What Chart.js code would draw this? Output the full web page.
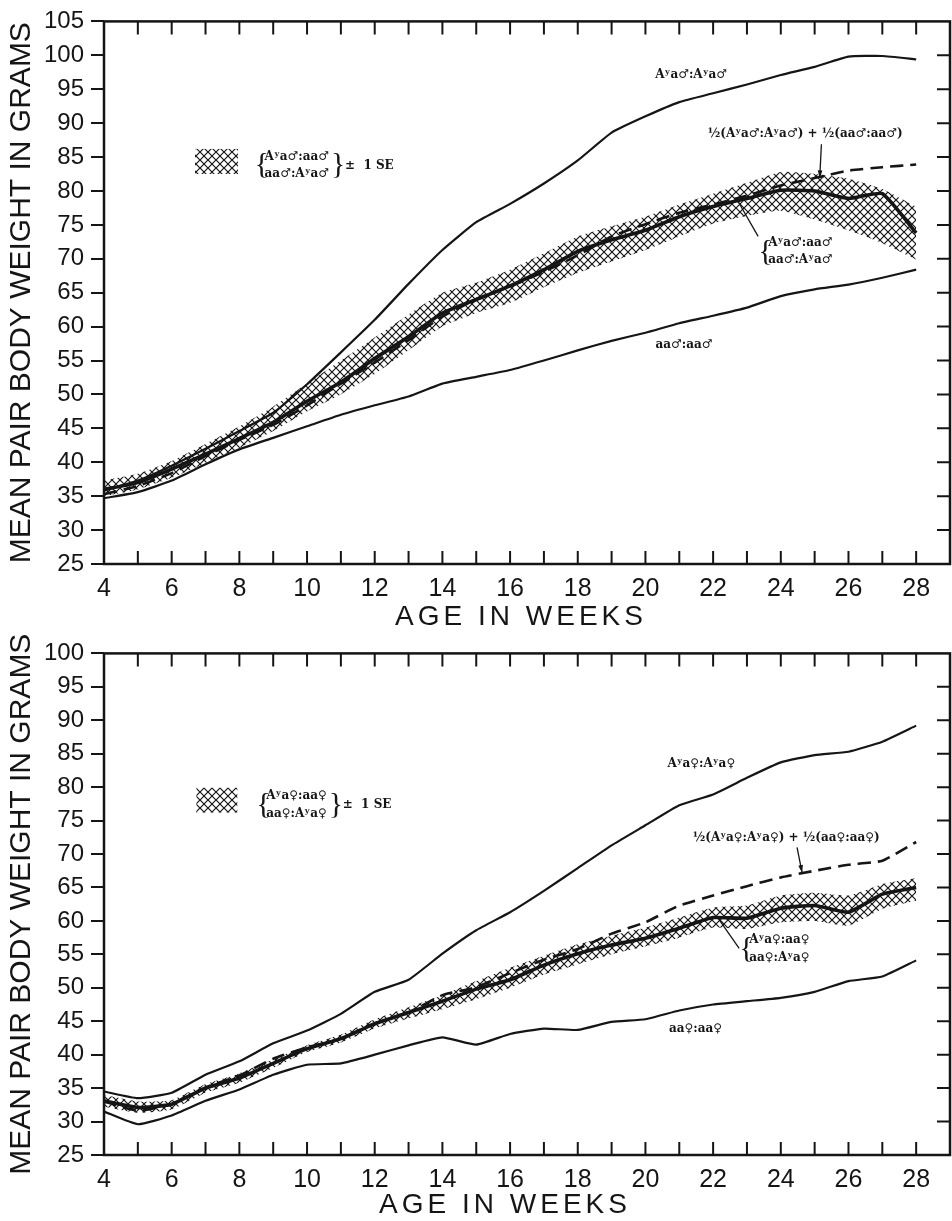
<!DOCTYPE html>
<html>
<head>
<meta charset="utf-8">
<script src="https://cdn.jsdelivr.net/npm/chart.js@4.4.0/dist/chart.umd.min.js"></script>
<style>
  html, body { margin: 0; padding: 0; background: #fff; }
  #wrap { position: relative; width: 952px; height: 1221px; }
  canvas { position: absolute; left: 0; }
  #males { top: 0; }
  #females { top: 632px; }
</style>
</head>
<body>
<div id="wrap">
  <canvas id="males" width="952" height="632"></canvas>
  <canvas id="females" width="952" height="589"></canvas>
</div>
<script>
const weeks = [4, 5, 6, 7, 8, 9, 10, 11, 12, 13, 14, 15, 16, 17, 18, 19, 20, 21, 22, 23, 24, 25, 26, 27, 28];

// males
const maleAyAy = [35.8, 37.3, 39.5, 42.0, 44.6, 47.3, 51.5, 56.2, 61.0, 66.3, 71.3, 75.4, 78.1, 81.1, 84.5, 88.6, 91.0, 93.1, 94.4, 95.7, 97.1, 98.3, 99.8, 99.9, 99.4];
const maleAaAa = [34.7, 35.6, 37.3, 39.7, 41.9, 43.6, 45.3, 47.0, 48.4, 49.7, 51.6, 52.6, 53.6, 55.0, 56.5, 57.9, 59.1, 60.5, 61.6, 62.8, 64.5, 65.5, 66.2, 67.2, 68.4];
const maleMidParent = [35.3, 36.5, 38.4, 40.9, 43.3, 45.5, 48.4, 51.6, 54.7, 58.0, 61.5, 64.0, 65.9, 68.1, 70.5, 73.3, 75.1, 76.8, 78.0, 79.3, 80.8, 81.9, 83.0, 83.5, 83.9];
const maleReciprocal = [36.0, 37.0, 39.0, 41.2, 43.5, 45.9, 49.0, 51.8, 55.3, 58.5, 62.0, 64.0, 66.0, 68.4, 71.1, 72.8, 74.2, 76.2, 77.7, 78.9, 80.1, 80.0, 78.9, 79.6, 73.8];
const maleSeUpper = [37.3, 38.3, 40.2, 42.7, 45.3, 48.2, 51.6, 55.0, 58.4, 61.8, 65.0, 66.5, 68.4, 70.8, 73.3, 74.8, 76.2, 78.0, 79.6, 81.2, 82.8, 82.5, 81.8, 80.3, 77.7];
const maleSeLower = [35.0, 36.0, 37.7, 39.9, 42.1, 44.6, 47.5, 50.0, 53.0, 56.5, 60.0, 62.0, 63.5, 65.8, 67.9, 69.6, 71.3, 73.3, 75.2, 76.3, 77.1, 75.8, 74.2, 72.3, 69.9];

// females
const femaleAyAy = [34.5, 33.5, 34.3, 37.0, 39.0, 41.7, 43.6, 46.1, 49.4, 51.2, 55.1, 58.6, 61.3, 64.5, 67.9, 71.3, 74.3, 77.3, 78.9, 81.4, 83.7, 84.8, 85.3, 86.8, 89.2];
const femaleAaAa = [31.5, 29.6, 30.9, 33.1, 34.8, 37.0, 38.5, 38.7, 40.0, 41.4, 42.6, 41.5, 43.1, 43.9, 43.7, 44.9, 45.3, 46.6, 47.5, 48.0, 48.5, 49.4, 51.0, 51.7, 54.1];
const femaleMidParent = [33.0, 31.6, 32.6, 35.1, 36.9, 39.4, 41.1, 42.4, 44.7, 46.3, 48.9, 50.1, 52.2, 54.2, 55.8, 58.1, 59.8, 62.3, 63.8, 65.2, 66.5, 67.5, 68.4, 69.0, 71.8];
const femaleReciprocal = [33.1, 32.1, 32.6, 35.0, 36.5, 38.7, 40.9, 42.4, 44.6, 46.3, 48.0, 49.8, 51.2, 53.4, 55.1, 56.4, 57.4, 58.9, 60.5, 60.4, 61.9, 62.3, 61.3, 64.0, 65.0];
const femaleSeUpper = [34.0, 33.0, 33.2, 35.6, 37.2, 39.3, 41.4, 43.0, 45.3, 47.1, 48.9, 51.0, 53.0, 54.8, 56.5, 57.8, 59.0, 60.5, 62.0, 62.3, 63.8, 64.2, 63.8, 65.5, 66.4];
const femaleSeLower = [32.2, 31.3, 31.8, 34.3, 35.8, 38.0, 40.4, 41.8, 43.9, 45.4, 46.8, 48.3, 50.0, 52.0, 53.5, 55.0, 56.2, 57.5, 59.0, 58.8, 59.8, 60.0, 59.3, 61.8, 63.0];

const ink = '#151515';
const labelFont = 'bold 12px "DejaVu Serif", "DejaVu Sans"';

function hatch(ctx) {
    const tile = document.createElement('canvas');
    tile.width = 8; tile.height = 8;
    const g = tile.getContext('2d');
    g.strokeStyle = ink;
    g.lineWidth = 1.2;
    g.beginPath();
    g.moveTo(-1, -1); g.lineTo(9, 9);
    g.moveTo(9, -1); g.lineTo(-1, 9);
    g.stroke();
    return ctx.createPattern(tile, 'repeat');
}

function toPoints(vals) {
    return weeks.map((w, i) => ({ x: w, y: vals[i] }));
}

function makeDecor(cfg) {
    return {
        id: 'decor',
        afterDraw(chart) {
            const { ctx, chartArea: a, scales: { x, y } } = chart;
            const P = (wx, vy) => [x.getPixelForValue(wx), y.getPixelForValue(vy)];
            ctx.save();
            ctx.strokeStyle = ink;
            ctx.fillStyle = ink;

            // frame and inward ticks
            ctx.lineWidth = 2.5;
            ctx.strokeRect(a.left, a.top, a.right - a.left, a.bottom - a.top);
            ctx.lineWidth = 2;
            ctx.beginPath();
            for (let w = 5; w <= 28; w++) {
                const p = x.getPixelForValue(w);
                ctx.moveTo(p, a.top); ctx.lineTo(p, a.top + 13);
                ctx.moveTo(p, a.bottom); ctx.lineTo(p, a.bottom - 13);
            }
            for (let v = y.min + 5; v < y.max; v += 5) {
                const q = y.getPixelForValue(v);
                ctx.moveTo(a.right, q); ctx.lineTo(a.right - 13, q);
            }
            ctx.stroke();

            // x axis title, letter spaced like the original
            ctx.font = '28px "Liberation Sans"';
            ctx.letterSpacing = '4px';
            ctx.textAlign = 'center';
            ctx.textBaseline = 'middle';
            ctx.fillText('AGE IN WEEKS', cfg.title[0], cfg.title[1]);
            ctx.letterSpacing = '0px';

            // curve labels
            ctx.font = labelFont;
            cfg.notes.forEach(n => {
                const [tx, ty] = P(n.x, n.y);
                ctx.fillText(n.text, tx, ty);
            });

            // pointers
            ctx.lineWidth = 1.3;
            cfg.pointers.forEach(p => {
                const [x1, y1] = P(p.from[0], p.from[1]);
                const [x2, y2] = P(p.to[0], p.to[1]);
                ctx.beginPath();
                ctx.moveTo(x1, y1); ctx.lineTo(x2, y2);
                ctx.stroke();
                if (p.head) {
                    const ang = Math.atan2(y2 - y1, x2 - x1);
                    ctx.beginPath();
                    ctx.moveTo(x2, y2);
                    ctx.lineTo(x2 - 8 * Math.cos(ang - 0.3), y2 - 8 * Math.sin(ang - 0.3));
                    ctx.lineTo(x2 - 8 * Math.cos(ang + 0.3), y2 - 8 * Math.sin(ang + 0.3));
                    ctx.closePath();
                    ctx.fill();
                }
            });

            // braced labels
            cfg.braces.forEach(b => {
                const [bx, by1] = P(b.x, b.y1);
                const by2 = y.getPixelForValue(b.y2);
                const mid = (by1 + by2) / 2;
                ctx.font = '30px "Liberation Serif"';
                ctx.textAlign = 'left';
                ctx.fillText('{', bx, mid);
                ctx.font = labelFont;
                ctx.fillText(b.lines[0], bx + 10, by1);
                ctx.fillText(b.lines[1], bx + 10, by2);
                if (b.suffix) {
                    const wMax = Math.max(ctx.measureText(b.lines[0]).width, ctx.measureText(b.lines[1]).width);
                    ctx.font = '30px "Liberation Serif"';
                    ctx.fillText('}', bx + 12 + wMax, mid);
                    ctx.font = labelFont;
                    ctx.fillText(b.suffix, bx + 26 + wMax, mid);
                }
            });

            // hatched legend swatch
            const [sx1, sy1] = P(cfg.swatch[0], cfg.swatch[1]);
            const [sx2, sy2] = P(cfg.swatch[2], cfg.swatch[3]);
            ctx.fillStyle = cfg.pattern;
            ctx.fillRect(sx1, sy1, sx2 - sx1, sy2 - sy1);
            ctx.restore();
        }
    };
}

function buildChart(id, series, yMax, padTop, xHeight, decorCfg) {
    const canvas = document.getElementById(id);
    const ctx = canvas.getContext('2d');
    const pattern = hatch(ctx);
    decorCfg.pattern = pattern;
    return new Chart(ctx, {
        type: 'line',
        data: {
            datasets: [
                { data: toPoints(series.ayay), borderColor: ink, borderWidth: 2.2, order: 1 },
                { data: toPoints(series.aaaa), borderColor: ink, borderWidth: 2.2, order: 1 },
                { data: toPoints(series.mid), borderColor: ink, borderWidth: 2.6, borderDash: [13, 7], order: 1 },
                { data: toPoints(series.recip), borderColor: ink, borderWidth: 3.6, order: 0 },
                { data: toPoints(series.upper), borderWidth: 0, backgroundColor: pattern, fill: '+1', order: 5 },
                { data: toPoints(series.lower), borderWidth: 0, order: 5 }
            ]
        },
        options: {
            responsive: false,
            animation: false,
            events: [],
            layout: { padding: { top: padTop, right: 2, left: 0, bottom: 0 } },
            elements: { point: { radius: 0 }, line: { tension: 0.15, fill: false } },
            plugins: { legend: { display: false }, tooltip: { enabled: false } },
            scales: {
                x: {
                    type: 'linear', min: 4, max: 29,
                    afterFit: s => { s.height = xHeight; },
                    grid: { display: false, drawTicks: false },
                    border: { display: false },
                    ticks: {
                        stepSize: 2, includeBounds: false, autoSkip: false, maxRotation: 0,
                        padding: 10, color: ink,
                        font: { family: 'Liberation Sans', size: 25 },
                        callback: v => (v % 2 === 0 && v <= 28 ? v : '')
                    }
                },
                y: {
                    type: 'linear', min: 25, max: yMax,
                    afterFit: s => { s.width = 104; },
                    grid: { drawOnChartArea: false, drawTicks: true, tickLength: 13, color: ink, lineWidth: 2 },
                    border: { display: false },
                    ticks: { stepSize: 5, padding: 7, color: ink, font: { family: 'Liberation Sans', size: 24 } },
                    title: {
                        display: true, text: 'MEAN PAIR BODY WEIGHT IN GRAMS', color: ink,
                        font: { family: 'Liberation Sans', size: 30 },
                        padding: { top: 4, bottom: 0 }
                    }
                }
            }
        },
        plugins: [makeDecor(decorCfg)]
    });
}

buildChart('males',
    { ayay: maleAyAy, aaaa: maleAaAa, mid: maleMidParent, recip: maleReciprocal, upper: maleSeUpper, lower: maleSeLower },
    105, 16, 68,
    {
        title: [521, 617],
        notes: [
            { text: 'Aʸa♂:Aʸa♂', x: 21.35, y: 97.1 },
            { text: '½(Aʸa♂:Aʸa♂) + ½(aa♂:aa♂)', x: 24.72, y: 88.4 },
            { text: 'aa♂:aa♂', x: 21.14, y: 57.3 }
        ],
        pointers: [
            { from: [25.2, 86.9], to: [25.15, 81.9], head: true },
            { from: [23.33, 73.3], to: [22.71, 78.7], head: false }
        ],
        braces: [
            { x: 23.33, y1: 72.3, y2: 69.8, lines: ['Aʸa♂:aa♂', 'aa♂:Aʸa♂'] },
            { x: 8.45, y1: 85.0, y2: 82.5, lines: ['Aʸa♂:aa♂', 'aa♂:Aʸa♂'], suffix: '±  1 SE' }
        ],
        swatch: [6.69, 86.2, 7.96, 82.5]
    });

buildChart('females',
    { ayay: femaleAyAy, aaaa: femaleAaAa, mid: femaleMidParent, recip: femaleReciprocal, upper: femaleSeUpper, lower: femaleSeLower },
    100, 13, 66,
    {
        title: [505, 573],
        notes: [
            { text: 'Aʸa♀:Aʸa♀', x: 21.65, y: 83.5 },
            { text: '½(Aʸa♀:Aʸa♀) + ½(aa♀:aa♀)', x: 24.16, y: 72.4 },
            { text: 'aa♀:aa♀', x: 21.48, y: 43.8 }
        ],
        pointers: [
            { from: [24.48, 71.0], to: [24.63, 67.2], head: true },
            { from: [22.77, 55.9], to: [22.12, 60.6], head: false }
        ],
        braces: [
            { x: 22.77, y1: 57.1, y2: 54.4, lines: ['Aʸa♀:aa♀', 'aa♀:Aʸa♀'] },
            { x: 8.5, y1: 78.7, y2: 76.0, lines: ['Aʸa♀:aa♀', 'aa♀:Aʸa♀'], suffix: '±  1 SE' }
        ],
        swatch: [6.73, 79.9, 7.94, 76.2]
    });
</script>
</body>
</html>
